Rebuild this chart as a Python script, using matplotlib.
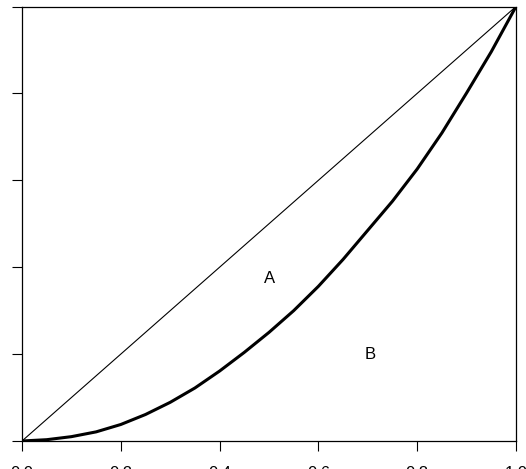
import matplotlib
matplotlib.use("Agg")
import matplotlib.pyplot as plt

# Lorenz curve data
pop_share = [0.0, 0.05, 0.10, 0.15, 0.20, 0.25, 0.30, 0.35, 0.40, 0.45, 0.50,
             0.55, 0.60, 0.65, 0.70, 0.75, 0.80, 0.85, 0.90, 0.95, 1.0]
income_share = [0.0, 0.003, 0.010, 0.021, 0.038, 0.061, 0.089, 0.122, 0.161, 0.204, 0.250,
                0.300, 0.356, 0.418, 0.485, 0.552, 0.626, 0.709, 0.801, 0.896, 1.0]
equality = [0.0, 1.0]
ticks = [0.0, 0.2, 0.4, 0.6, 0.8, 1.0]
tick_labels = ["0.0", "0.2", "0.4", "0.6", "0.8", "1.0"]
area_labels = ["A", "B"]
area_pos = [(0.502, 0.373), (0.704, 0.198)]

plt.rcParams['font.family'] = ['Liberation Sans', 'DejaVu Sans']

fig = plt.figure(figsize=(5.26, 4.69), dpi=100)
ax = fig.add_axes([22/526, 1 - 441/469, (516-22)/526, (441-6.5)/469])

ax.plot(equality, equality, color='black', lw=0.8)
ax.plot(pop_share, income_share, color='black', lw=2.2, solid_joinstyle='round')

for lab, (x, y) in zip(area_labels, area_pos):
    ax.text(x, y, lab, fontsize=12, ha='center', va='center')

ax.set_xlim(0, 1)
ax.set_ylim(0, 1)
ax.set_xticks(ticks)
ax.set_xticklabels(tick_labels)
ax.set_yticks(ticks)
ax.set_yticklabels(tick_labels)
ax.tick_params(axis='both', length=7.2, width=0.8, labelsize=12, direction='out')
ax.tick_params(axis='x', pad=10.5)
ax.tick_params(axis='y', pad=6.3, labelrotation=90)
for lab in ax.get_yticklabels():
    lab.set_va('center')
for s in ax.spines.values():
    s.set_linewidth(0.9)

fig.savefig("out.png", dpi=100)
